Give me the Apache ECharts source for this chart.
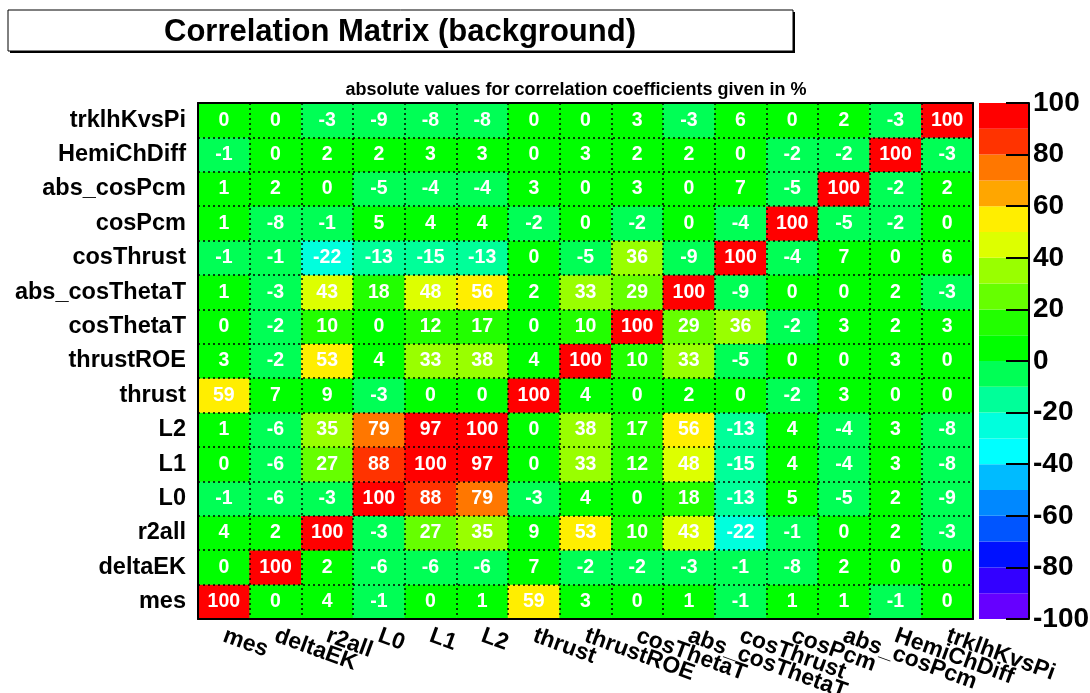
<!DOCTYPE html>
<html>
<head>
<meta charset="utf-8">
<script src="https://cdn.jsdelivr.net/npm/echarts@6/dist/echarts.min.js"></script>
<style>
  html, body { margin: 0; padding: 0; background: #fff; }
  #chart { width: 1090px; height: 693px; }
</style>
</head>
<body>
<div id="chart"></div>
<script>
// Variable names, in axis order (bottom-to-top on y, left-to-right on x)
const variables = ['mes', 'deltaEK', 'r2all', 'L0', 'L1', 'L2', 'thrust', 'thrustROE',
  'cosThetaT', 'abs_cosThetaT', 'cosThrust', 'cosPcm', 'abs_cosPcm', 'HemiChDiff', 'trklhKvsPi'];

const xTickLabels = variables;
const yTickLabels = variables;

// Correlation coefficients in %, one row per y variable, columns follow `variables`
const rowMes          = [100,   0,   4,  -1,   0,   1,  59,   3,   0,   1,  -1,   1,   1,  -1,   0];
const rowDeltaEK      = [  0, 100,   2,  -6,  -6,  -6,   7,  -2,  -2,  -3,  -1,  -8,   2,   0,   0];
const rowR2all        = [  4,   2, 100,  -3,  27,  35,   9,  53,  10,  43, -22,  -1,   0,   2,  -3];
const rowL0           = [ -1,  -6,  -3, 100,  88,  79,  -3,   4,   0,  18, -13,   5,  -5,   2,  -9];
const rowL1           = [  0,  -6,  27,  88, 100,  97,   0,  33,  12,  48, -15,   4,  -4,   3,  -8];
const rowL2           = [  1,  -6,  35,  79,  97, 100,   0,  38,  17,  56, -13,   4,  -4,   3,  -8];
const rowThrust       = [ 59,   7,   9,  -3,   0,   0, 100,   4,   0,   2,   0,  -2,   3,   0,   0];
const rowThrustROE    = [  3,  -2,  53,   4,  33,  38,   4, 100,  10,  33,  -5,   0,   0,   3,   0];
const rowCosThetaT    = [  0,  -2,  10,   0,  12,  17,   0,  10, 100,  29,  36,  -2,   3,   2,   3];
const rowAbsCosThetaT = [  1,  -3,  43,  18,  48,  56,   2,  33,  29, 100,  -9,   0,   0,   2,  -3];
const rowCosThrust    = [ -1,  -1, -22, -13, -15, -13,   0,  -5,  36,  -9, 100,  -4,   7,   0,   6];
const rowCosPcm       = [  1,  -8,  -1,   5,   4,   4,  -2,   0,  -2,   0,  -4, 100,  -5,  -2,   0];
const rowAbsCosPcm    = [  1,   2,   0,  -5,  -4,  -4,   3,   0,   3,   0,   7,  -5, 100,  -2,   2];
const rowHemiChDiff   = [ -1,   0,   2,   2,   3,   3,   0,   3,   2,   2,   0,  -2,  -2, 100,  -3];
const rowTrklhKvsPi   = [  0,   0,  -3,  -9,  -8,  -8,   0,   0,   3,  -3,   6,   0,   2,  -3, 100];

const rows = [rowMes, rowDeltaEK, rowR2all, rowL0, rowL1, rowL2, rowThrust, rowThrustROE,
  rowCosThetaT, rowAbsCosThetaT, rowCosThrust, rowCosPcm, rowAbsCosPcm, rowHemiChDiff, rowTrklhKvsPi];

// Contour levels of the colour scale and the palette colour of each band
const contourLevels = [-100, -90, -80, -70, -60, -50, -40, -30, -20, -10, 0,
  10, 20, 30, 40, 50, 60, 70, 80, 90, 100];
const paletteColors = ['#6600ff', '#3300ff', '#0011ff', '#0055ff', '#0088ff', '#00bbff',
  '#00ffff', '#00ffdd', '#00ff99', '#00ff55', '#00ff00', '#22ff00', '#66ff00', '#99ff00',
  '#ddff00', '#ffee00', '#ffa600', '#ff7700', '#ff3300', '#ff0000'];
const colorTicks = { min: -100, max: 100, step: 20 };

const FONT = '"Liberation Sans", Arial, Helvetica, sans-serif';

// heatmap cells: [xIndex, yIndex, value]
const cells = [];
rows.forEach((row, yi) => row.forEach((v, xi) => cells.push([xi, yi, v])));

const pieces = paletteColors.map((c, i) => {
  const p = { gte: contourLevels[i], color: c };
  if (i < paletteColors.length - 1) p.lt = contourLevels[i + 1];
  else p.lte = contourLevels[i + 1];
  return p;
});

const bands = paletteColors.map((c, i) => ({
  value: [contourLevels[i], contourLevels[i + 1]],
  itemStyle: { color: c }
}));

const chart = echarts.init(document.getElementById('chart'), null, { renderer: 'canvas' });

const dotted = { color: '#000', width: 1.5, type: [2, 3] };

chart.setOption({
  animation: false,
  backgroundColor: '#ffffff',
  textStyle: { fontFamily: FONT },
  graphic: [
    { type: 'rect', shape: { x: 10, y: 12, width: 785, height: 41 }, style: { fill: '#000' }, z: 1 },
    { type: 'rect', shape: { x: 8, y: 10, width: 785, height: 41 },
      style: { fill: '#fff', stroke: '#000', lineWidth: 1 }, z: 2 },
    { type: 'text', x: 400, y: 32, z: 3,
      style: { text: 'Correlation Matrix (background)', fill: '#000',
        font: 'bold 31px ' + FONT, textAlign: 'center', textVerticalAlign: 'middle' } },
    { type: 'text', x: 576, y: 90, z: 3,
      style: { text: 'absolute values for correlation coefficients given in %', fill: '#000',
        font: 'bold 18px ' + FONT, textAlign: 'center', textVerticalAlign: 'middle' } }
  ],
  grid: [
    { left: 198, right: 117, top: 103, bottom: 74, containLabel: false, outerBoundsMode: 'none' },
    { left: 979, right: 61, top: 103, bottom: 74, containLabel: false, outerBoundsMode: 'none' }
  ],
  xAxis: [
    {
      type: 'category', gridIndex: 0, data: xTickLabels, position: 'bottom', z: 5,
      axisLine: { show: true, lineStyle: { color: '#000', width: 2 } },
      axisTick: { show: false },
      splitLine: { show: true, interval: 0, lineStyle: dotted },
      axisLabel: { interval: 0, rotate: -20, margin: 16, color: '#000', hideOverlap: false,
        fontFamily: FONT, fontWeight: 'bold', fontSize: 23 }
    },
    {
      type: 'category', gridIndex: 0, data: xTickLabels, position: 'top', z: 5,
      axisLine: { show: true, lineStyle: { color: '#000', width: 2 } },
      axisTick: { show: false }, axisLabel: { show: false }, splitLine: { show: false }
    },
    {
      type: 'value', gridIndex: 1, min: 0, max: 1, show: false
    }
  ],
  yAxis: [
    {
      type: 'category', gridIndex: 0, data: yTickLabels, position: 'left', z: 5,
      axisLine: { show: true, lineStyle: { color: '#000', width: 2 } },
      axisTick: { show: false },
      splitLine: { show: true, interval: 0, lineStyle: dotted },
      axisLabel: { interval: 0, margin: 12, color: '#000',
        fontFamily: FONT, fontWeight: 'bold', fontSize: 23.5 }
    },
    {
      type: 'category', gridIndex: 0, data: yTickLabels, position: 'right', z: 5,
      axisLine: { show: true, lineStyle: { color: '#000', width: 2 } },
      axisTick: { show: false }, axisLabel: { show: false }, splitLine: { show: false }
    },
    {
      type: 'value', gridIndex: 1, position: 'right', z: 5,
      min: colorTicks.min, max: colorTicks.max, interval: colorTicks.step,
      axisLine: { show: true, onZero: false, lineStyle: { color: '#000', width: 2 } },
      axisTick: { show: true, inside: true, length: 23, lineStyle: { color: '#000', width: 2 } },
      splitLine: { show: false },
      axisLabel: { margin: 4, color: '#000', fontFamily: FONT, fontWeight: 'bold', fontSize: 28 }
    }
  ],
  visualMap: {
    type: 'piecewise', show: false, seriesIndex: 0, dimension: 2, pieces: pieces
  },
  series: [
    {
      type: 'heatmap', xAxisIndex: 0, yAxisIndex: 0, data: cells,
      label: {
        show: true, color: '#fff', fontFamily: FONT, fontWeight: 'bold', fontSize: 19.5,
        formatter: p => String(p.value[2])
      },
      emphasis: { disabled: true }
    },
    {
      type: 'custom', xAxisIndex: 2, yAxisIndex: 2, data: bands,
      renderItem: (params, api) => {
        const lo = api.value(0), hi = api.value(1);
        const a = api.coord([0, lo]);
        const b = api.coord([1, hi]);
        return {
          type: 'rect',
          shape: { x: a[0], y: b[1], width: b[0] - a[0], height: a[1] - b[1] },
          style: { fill: paletteColors[params.dataIndex] }
        };
      }
    }
  ]
});
</script>
</body>
</html>
